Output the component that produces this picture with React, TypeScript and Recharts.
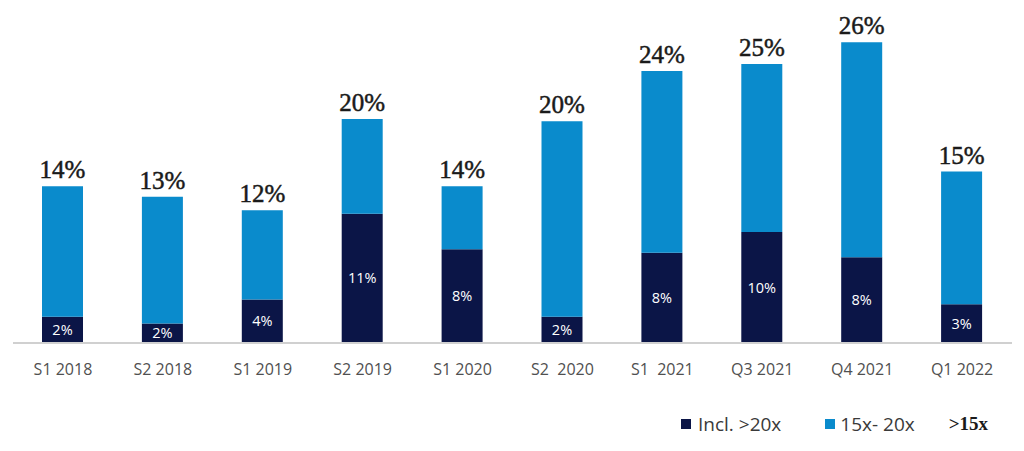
import { Bar, BarChart, LabelList, XAxis, YAxis } from "recharts";

const periods = [
  "S1 2018",
  "S2 2018",
  "S1 2019",
  "S2 2019",
  "S1 2020",
  "S2\u00a0 2020",
  "S1\u00a0 2021",
  "Q3 2021",
  "Q4 2021",
  "Q1 2022"
];
const above20x = [2.3, 1.7, 3.8, 11.3, 8.2, 2.3, 7.9, 9.7, 7.5, 3.4];
const from15to20x = [11.4, 11.1, 7.8, 8.3, 5.5, 17.1, 15.9, 14.7, 18.8, 11.6];
const above20xLabels = ["2%", "2%", "4%", "11%", "8%", "2%", "8%", "10%", "8%", "3%"];
const totalLabels = ["14%", "13%", "12%", "20%", "14%", "20%", "24%", "25%", "26%", "15%"];

const DARK = "#0b1547";
const LIGHT = "#0a8bcc";

const data = periods.map((p, i) => ({
  period: p,
  above20x: above20x[i],
  from15to20x: from15to20x[i],
  innerLabel: above20xLabels[i],
  totalLabel: totalLabels[i]
}));

function TopLabel(props: any) {
  const { x, y, width, value } = props;
  return (
    <text
      x={x + width / 2}
      y={y - 8}
      textAnchor="middle"
      fontFamily="'Liberation Serif', serif"
      fontSize={25}
      fill="#1a1a1a"
      stroke="#1a1a1a"
      strokeWidth={0.5}
    >
      {value}
    </text>
  );
}

function InnerLabel(props: any) {
  const { x, y, width, height, value } = props;
  return (
    <text
      x={x + width / 2}
      y={y + height / 2 + 5}
      textAnchor="middle"
      fontFamily="'Open Sans', sans-serif"
      fontSize={14.5}
      fill="#ffffff"
    >
      {value}
    </text>
  );
}

export default function App() {
  return (
    <div style={{ position: "absolute", left: 0, top: 0, width: 1024, height: 451, background: "#fff" }}>
      <BarChart
        width={1024}
        height={451}
        data={data}
        margin={{ top: 0, right: 12, bottom: 58, left: 13 }}
        barCategoryGap={0}
      >
        <YAxis hide domain={[0, 30]} />
        <XAxis
          dataKey="period"
          height={50}
          tickLine={false}
          axisLine={{ stroke: "#d0d0d0", strokeWidth: 2 }}
          tick={{ fill: "#505050", fontSize: 16, fontFamily: "'Open Sans', sans-serif" }}
          tickMargin={15}
          interval={0}
        />
        <Bar dataKey="above20x" stackId="a" fill={DARK} barSize={41} isAnimationActive={false}>
          <LabelList dataKey="innerLabel" content={<InnerLabel />} />
        </Bar>
        <Bar dataKey="from15to20x" stackId="a" fill={LIGHT} barSize={41} isAnimationActive={false}>
          <LabelList dataKey="totalLabel" content={<TopLabel />} />
        </Bar>
      </BarChart>
      <div
        style={{
          position: "absolute",
          top: 411,
          left: 681,
          display: "flex",
          alignItems: "center",
          fontFamily: "'Open Sans', sans-serif",
          fontSize: 19,
          color: "#3a3a3a"
        }}
      >
        <span style={{ width: 10, height: 10, background: DARK, marginRight: 7 }} />
        <span style={{ marginRight: 44 }}>Incl. &gt;20x</span>
        <span style={{ width: 10, height: 10, background: LIGHT, marginRight: 5 }} />
        <span style={{ marginRight: 34 }}>15x- 20x</span>
        <span style={{ fontFamily: "'Liberation Serif', serif", fontWeight: "bold", fontSize: 19, color: "#1a1a1a" }}>
          &gt;15x
        </span>
      </div>
    </div>
  );
}
